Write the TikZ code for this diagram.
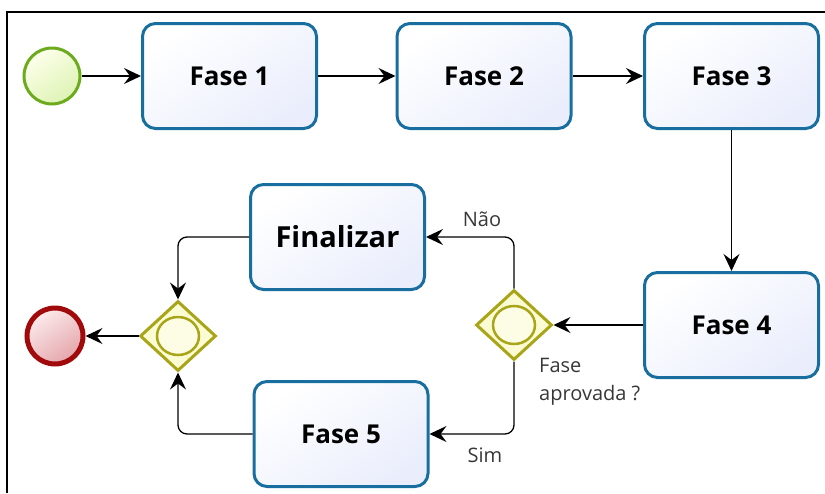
\documentclass[tikz,border=0pt]{standalone}
\usepackage{fontspec}
\setmainfont{Open Sans}
\usetikzlibrary{arrows.meta,shapes.geometric}
\definecolor{boxline}{RGB}{25,110,160}
\definecolor{boxfillA}{RGB}{255,255,255}
\definecolor{boxfillB}{RGB}{234,238,252}
\definecolor{gwline}{RGB}{168,165,25}
\definecolor{gwfill}{RGB}{252,252,212}
\definecolor{stline}{RGB}{108,170,30}
\definecolor{stfillA}{RGB}{252,255,235}
\definecolor{stfillB}{RGB}{222,243,180}
\definecolor{enline}{RGB}{160,10,10}
\definecolor{enfillA}{RGB}{252,235,236}
\definecolor{enfillB}{RGB}{228,165,170}
\definecolor{lbl}{RGB}{55,55,55}
\tikzset{
  taskbox/.style={draw=boxline, line width=3pt, rounded corners=13pt,
    top color=boxfillA, bottom color=boxfillB, shading angle=35,
    minimum width=174pt, minimum height=105pt, inner sep=0pt,
    font=\bfseries\fontsize{26}{30}\selectfont},
  gw/.style={diamond, draw=gwline, line width=3pt, fill=gwfill,
    minimum width=76pt, minimum height=70pt, inner sep=0pt},
  gwin/.style={ellipse, draw=gwline, line width=2.5pt, fill=gwfill!60!white,
    minimum width=42pt, minimum height=38pt, inner sep=0pt},
  startev/.style={circle, draw=stline, line width=3pt,
    top color=stfillA, bottom color=stfillB, shading angle=35,
    minimum size=56pt, inner sep=0pt},
  endev/.style={circle, draw=enline, line width=5pt,
    top color=enfillA, bottom color=enfillB, shading angle=35,
    minimum size=56pt, inner sep=0pt},
  flow/.style={draw=black, line width=1.3pt, rounded corners=9pt,
    -{Stealth[length=17pt,width=16pt,inset=6pt]}},
  lab/.style={text=lbl, font=\fontsize{20}{28}\selectfont, inner sep=0pt}
}
\begin{document}
\begin{tikzpicture}[x=1pt,y=-1pt]
\useasboundingbox (0,0) rectangle (825,493);
\draw[line width=2.5pt] (7,493) -- (7,12) -- (825,12);

\node[startev] (start) at (52,76) {};
\node[taskbox] (f1) at (229.5,76) {Fase 1};
\node[taskbox] (f2) at (484,76) {Fase 2};
\node[taskbox] (f3) at (731.5,76) {Fase 3};
\node[taskbox] (f4) at (731.5,325) {Fase 4};
\node[taskbox, font=\bfseries\fontsize{29}{32}\selectfont] (fin) at (337.5,237) {Finalizar};
\node[taskbox] (f5) at (341,434) {Fase 5};

\node[gw] (g1) at (514,325) {};
\node[gwin] (g1c) at (514,325) {};
\node[gw] (g2) at (178,336) {};
\node[gwin] (g2c) at (178,336) {};
\node[endev] (end) at (55,336) {};

\draw[flow] (start) -- (f1);
\draw[flow] (f1) -- (f2);
\draw[flow] (f2) -- (f3);
\draw[flow] (f3) -- (f4);
\draw[flow] (f4) -- (g1);
\draw[flow] (g1.north) |- (fin.east);
\draw[flow] (g1.south) |- (f5.east);
\draw[flow] (fin.west) -| (g2.north);
\draw[flow] (f5.west) -| (g2.south);
\draw[flow] (g2) -- (end);

\node[lab] (nao) at (482,219) {Não};
\node[lab] (sim) at (485,455) {Sim};
\node[lab, anchor=north west, align=left, font=\fontsize{20}{28}\selectfont] (q) at (539,358) {Fase\\aprovada ?};
\end{tikzpicture}
\end{document}
